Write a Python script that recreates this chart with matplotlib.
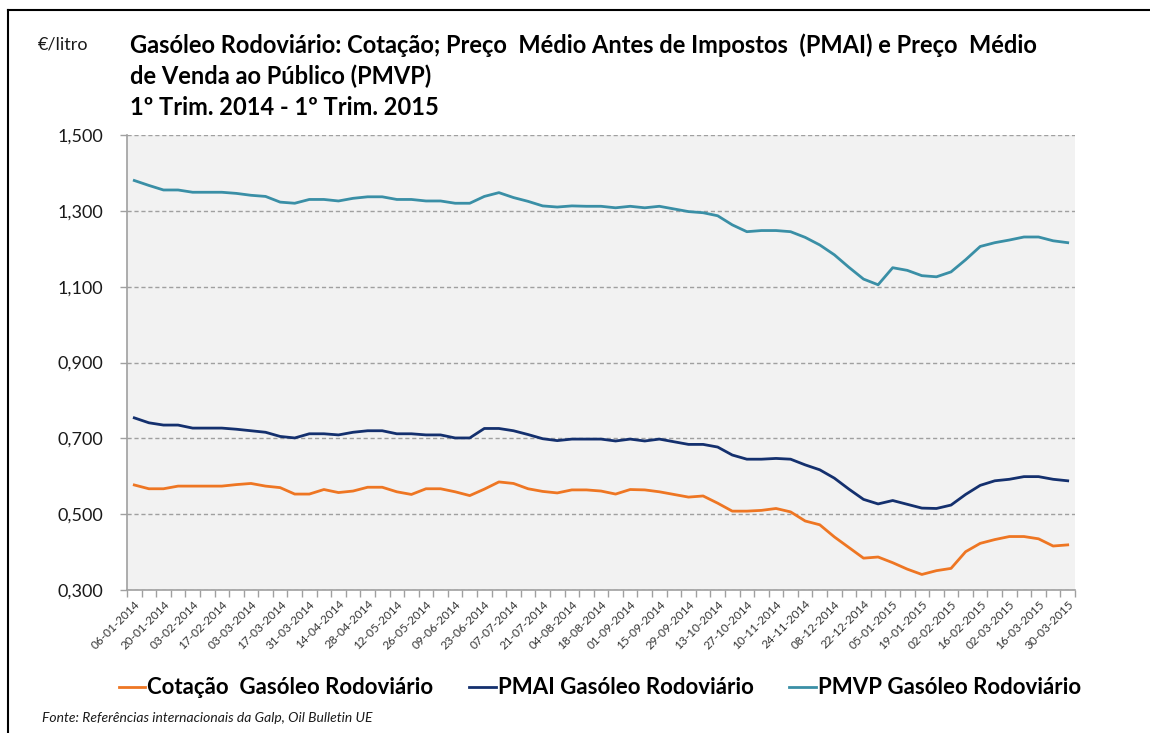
import matplotlib.pyplot as plt
from matplotlib.lines import Line2D
from matplotlib.ticker import FuncFormatter, FixedLocator

plt.rcParams['font.family'] = ['Lato', 'DejaVu Sans']

# weekly labels (every second week shown)
week_labels = ['06-01-2014', '20-01-2014', '03-02-2014', '17-02-2014', '03-03-2014',
               '17-03-2014', '31-03-2014', '14-04-2014', '28-04-2014', '12-05-2014',
               '26-05-2014', '09-06-2014', '23-06-2014', '07-07-2014', '21-07-2014',
               '04-08-2014', '18-08-2014', '01-09-2014', '15-09-2014', '29-09-2014',
               '13-10-2014', '27-10-2014', '10-11-2014', '24-11-2014', '08-12-2014',
               '22-12-2014', '05-01-2015', '19-01-2015', '02-02-2015', '16-02-2015',
               '02-03-2015', '16-03-2015', '30-03-2015']

cotacao = [0.577, 0.567, 0.567, 0.574, 0.574, 0.574, 0.574, 0.578, 0.581, 0.574,
           0.570, 0.553, 0.553, 0.565, 0.557, 0.561, 0.571, 0.571, 0.559, 0.552,
           0.567, 0.567, 0.559, 0.549, 0.566, 0.585, 0.581, 0.567, 0.560, 0.556,
           0.564, 0.564, 0.561, 0.553, 0.565, 0.564, 0.559, 0.552, 0.545, 0.548,
           0.529, 0.508, 0.508, 0.510, 0.515, 0.506, 0.482, 0.472, 0.440, 0.412,
           0.384, 0.387, 0.372, 0.355, 0.341, 0.351, 0.357, 0.401, 0.423, 0.433,
           0.441, 0.441, 0.435, 0.416, 0.419]

pmai = [0.754, 0.741, 0.735, 0.735, 0.727, 0.727, 0.727, 0.724, 0.720, 0.716,
        0.705, 0.701, 0.712, 0.712, 0.709, 0.716, 0.720, 0.720, 0.712, 0.712,
        0.709, 0.709, 0.701, 0.701, 0.726, 0.726, 0.720, 0.710, 0.699, 0.694,
        0.698, 0.698, 0.698, 0.693, 0.698, 0.693, 0.698, 0.691, 0.684, 0.684,
        0.677, 0.656, 0.645, 0.645, 0.647, 0.645, 0.630, 0.617, 0.595, 0.566,
        0.539, 0.527, 0.536, 0.526, 0.516, 0.515, 0.524, 0.552, 0.576, 0.588,
        0.592, 0.599, 0.599, 0.592, 0.588]

pmvp = [1.380, 1.367, 1.355, 1.355, 1.349, 1.349, 1.349, 1.346, 1.341, 1.338,
        1.323, 1.320, 1.330, 1.330, 1.326, 1.333, 1.337, 1.337, 1.330, 1.330,
        1.326, 1.326, 1.320, 1.320, 1.338, 1.348, 1.335, 1.325, 1.313, 1.310,
        1.313, 1.312, 1.312, 1.308, 1.312, 1.308, 1.312, 1.305, 1.298, 1.295,
        1.287, 1.263, 1.245, 1.248, 1.248, 1.245, 1.230, 1.210, 1.184, 1.151,
        1.120, 1.105, 1.150, 1.143, 1.129, 1.126, 1.139, 1.171, 1.206, 1.216,
        1.223, 1.231, 1.231, 1.221, 1.216]

series_names = ['Cotação  Gasóleo Rodoviário', 'PMAI Gasóleo Rodoviário', 'PMVP Gasóleo Rodoviário']
colors = ['#EE7623', '#14306E', '#3A8FA6']

W, H = 1150, 733
fig = plt.figure(figsize=(W / 100, H / 100), dpi=100)
ax = fig.add_axes([127 / W, 1 - 590 / H, (1075 - 127) / W, (590 - 135) / H])
ax.set_facecolor('#F2F2F2')

x = list(range(len(pmvp)))
for vals, c, name in zip([cotacao, pmai, pmvp], colors, series_names):
    ax.plot(x, vals, color=c, lw=2.0, label=name, solid_joinstyle='round')

ax.set_xlim(-0.5, len(x) - 0.5)
ax.set_ylim(0.3, 1.5)
ax.set_yticks([0.3, 0.5, 0.7, 0.9, 1.1, 1.3, 1.5])
ax.yaxis.set_major_formatter(FuncFormatter(lambda v, p: f'{v:.3f}'.replace('.', ',')))
ax.grid(axis='y', color='#A0A0A0', ls=(0, (3, 2)), lw=1.0)
ax.set_axisbelow(True)

# ticks between categories, labels every second week
ax.xaxis.set_major_locator(FixedLocator([i - 0.5 for i in range(len(x) + 1)]))
ax.xaxis.set_major_formatter(FuncFormatter(lambda v, p: ''))
ax.set_xticks(x[::2], minor=True)
ax.set_xticklabels(week_labels, minor=True, rotation=45, ha='right',
                   rotation_mode='anchor', fontsize=8.5, color='#333333')
ax.tick_params(axis='x', which='minor', length=0, pad=6)
ax.tick_params(axis='x', which='major', length=5, color='#A0A0A0', width=1)
ax.tick_params(axis='y', length=5, color='#A0A0A0', width=1, labelsize=13,
               labelcolor='#1a1a1a', pad=12)

for s in ['top', 'right']:
    ax.spines[s].set_visible(False)
for s in ['left', 'bottom']:
    ax.spines[s].set_color('#A0A0A0')
    ax.spines[s].set_linewidth(1.2)

# outer frame
fig.add_artist(Line2D([8 / W, 8 / W], [0, 1 - 10 / H], color='black', lw=1.5))
fig.add_artist(Line2D([8 / W, 1], [1 - 10 / H, 1 - 10 / H], color='black', lw=1.5))

fig.text(38 / W, 1 - 45 / H, '€/litro', fontsize=13, va='center', color='#1a1a1a')
title = ('Gasóleo Rodoviário: Cotação; Preço  Médio Antes de Impostos  (PMAI) e Preço  Médio\n'
         'de Venda ao Público (PMVP)\n'
         '1º Trim. 2014 - 1º Trim. 2015')
fig.text(130 / W, 1 - 33 / H, title, fontsize=17, fontweight='bold', va='top',
         linespacing=1.4, color='black')

fig.legend(loc='center', bbox_to_anchor=(600 / W, 1 - 688 / H), ncol=3, frameon=False,
           prop={'size': 16, 'weight': 'bold'}, handlelength=1.2, handletextpad=0.1,
           columnspacing=1.6)

fig.text(42 / W, 1 - 718 / H, 'Fonte: Referências internacionais da Galp, Oil Bulletin UE',
         fontsize=10, style='italic', va='center', color='#1a1a1a')

fig.savefig('out.png', dpi=100)
